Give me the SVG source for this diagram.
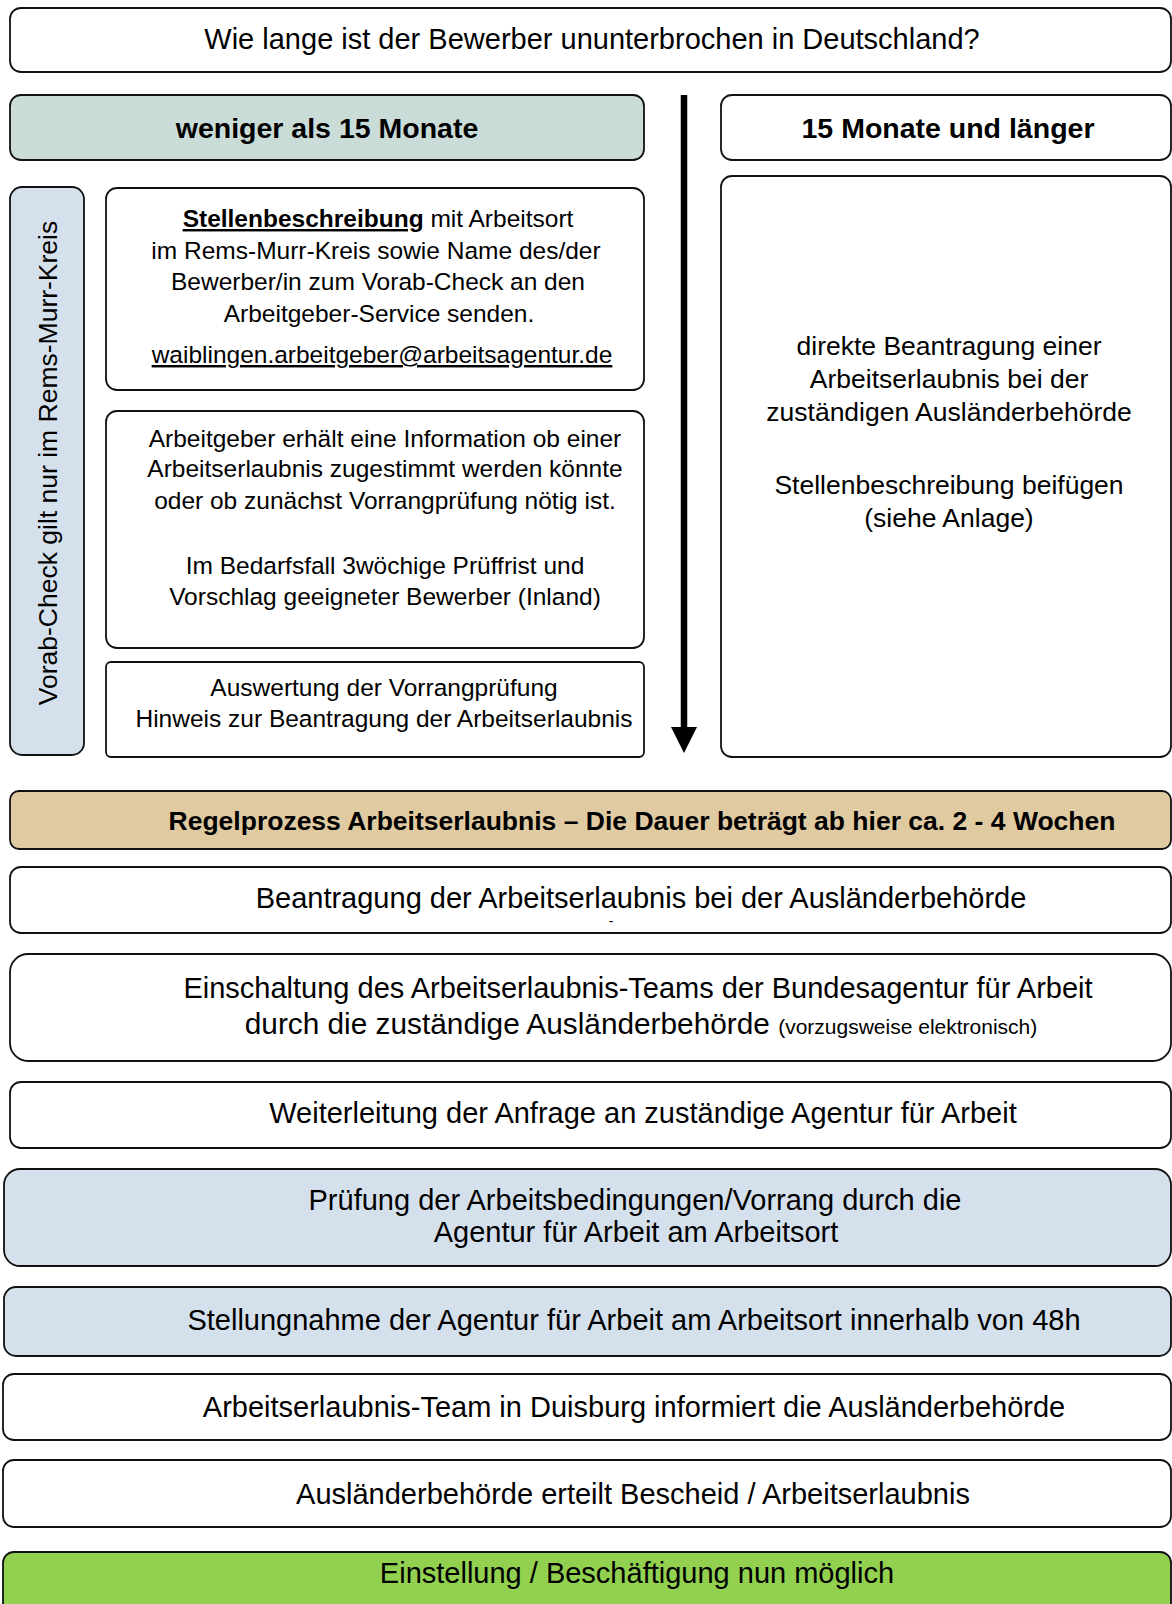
<svg xmlns="http://www.w3.org/2000/svg" width="1172" height="1604" viewBox="0 0 1172 1604">
<style>
.box{stroke:#111;stroke-width:1.8}
.w{fill:#ffffff}
.teal{fill:#cadcd8}
.blue{fill:#d4e0ec}
.tan{fill:#dfcaa1}
.green{fill:#92d050}
text{font-family:"Liberation Sans",Arial,sans-serif;fill:#000;text-anchor:middle}
.t29{font-size:29px}
.t26{font-size:26.5px}
.t24{font-size:24.5px}
.b{font-weight:bold}
</style>
<defs>
<marker id="ah" markerWidth="4" markerHeight="4" refX="0" refY="2" orient="auto" markerUnits="strokeWidth">
<path d="M0,0 L4,2 L0,4 z" fill="#000"/>
</marker>
</defs>
<rect width="1172" height="1604" fill="#fff"/>

<g id="connectors">
<line x1="684" y1="95" x2="684" y2="727" stroke="#000" stroke-width="6.5" marker-end="url(#ah)"/>
</g>

<g id="n-question">
<rect class="box w" x="10" y="8" width="1161" height="64" rx="11"/>
<text class="t29" x="592" y="49">Wie lange ist der Bewerber ununterbrochen in Deutschland?</text>
</g>

<g id="n-weniger">
<rect class="box teal" x="10" y="95" width="634" height="65" rx="11"/>
<text class="t29 b" x="327" y="138" style="font-size:28.5px">weniger als 15 Monate</text>
</g>

<g id="n-laenger">
<rect class="box w" x="721" y="95" width="450" height="65" rx="11"/>
<text class="t29 b" x="948" y="138" style="font-size:28.5px">15 Monate und länger</text>
</g>

<g id="n-vorab">
<rect class="box blue" x="10" y="187" width="74" height="568" rx="12"/>
<text class="t26" transform="translate(57,463) rotate(-90)" x="0" y="0">Vorab-Check gilt nur im Rems-Murr-Kreis</text>
</g>

<g id="n-stellen">
<rect class="box w" x="106" y="188" width="538" height="202" rx="11"/>
<text class="t24" x="378" y="227"><tspan class="b" text-decoration="underline">Stellenbeschreibung</tspan> mit Arbeitsort</text>
<text class="t24" x="376" y="259">im Rems-Murr-Kreis sowie Name des/der</text>
<text class="t24" x="378" y="290">Bewerber/in zum Vorab-Check an den</text>
<text class="t24" x="379" y="322">Arbeitgeber-Service senden.</text>
<text class="t24" x="382" y="363" text-decoration="underline">waiblingen.arbeitgeber@arbeitsagentur.de</text>
</g>

<g id="n-info">
<rect class="box w" x="106" y="411" width="538" height="237" rx="11"/>
<text class="t24" x="385" y="447">Arbeitgeber erhält eine Information ob einer</text>
<text class="t24" x="385" y="477">Arbeitserlaubnis zugestimmt werden könnte</text>
<text class="t24" x="385" y="509">oder ob zunächst Vorrangprüfung nötig ist.</text>
<text class="t24" x="385" y="574">Im Bedarfsfall 3wöchige Prüffrist und</text>
<text class="t24" x="385" y="605">Vorschlag geeigneter Bewerber (Inland)</text>
</g>

<g id="n-auswertung">
<rect class="box w" x="106" y="662" width="538" height="95" rx="5"/>
<text class="t24" x="384" y="696">Auswertung der Vorrangprüfung</text>
<text class="t24" x="384" y="727">Hinweis zur Beantragung der Arbeitserlaubnis</text>
</g>

<g id="n-direkt">
<rect class="box w" x="721" y="176" width="450" height="581" rx="11"/>
<text class="t26" x="949" y="355">direkte Beantragung einer</text>
<text class="t26" x="949" y="388">Arbeitserlaubnis bei der</text>
<text class="t26" x="949" y="421">zuständigen Ausländerbehörde</text>
<text class="t26" x="949" y="494">Stellenbeschreibung beifügen</text>
<text class="t26" x="949" y="527">(siehe Anlage)</text>
</g>

<g id="n-regel">
<rect class="box tan" x="10" y="791" width="1161" height="58" rx="9"/>
<text class="t26 b" x="642" y="830">Regelprozess Arbeitserlaubnis – Die Dauer beträgt ab hier ca. 2 - 4 Wochen</text>
</g>

<g id="n-beantragung">
<rect class="box w" x="10" y="867" width="1161" height="66" rx="11"/>
<text class="t29" x="641" y="908">Beantragung der Arbeitserlaubnis bei der Ausländerbehörde</text>
<text x="611" y="926" style="font-size:14px">-</text>
</g>

<g id="n-einschaltung">
<rect class="box w" x="10" y="954" width="1161" height="107" rx="18"/>
<text class="t29" x="638" y="998">Einschaltung des Arbeitserlaubnis-Teams der Bundesagentur für Arbeit</text>
<text x="641" y="1034" style="font-size:29.8px">durch die zuständige Ausländerbehörde <tspan style="font-size:21px">(vorzugsweise elektronisch)</tspan></text>
</g>

<g id="n-weiterleitung">
<rect class="box w" x="10" y="1082" width="1161" height="66" rx="11"/>
<text class="t29" x="643" y="1123">Weiterleitung der Anfrage an zuständige Agentur für Arbeit</text>
</g>

<g id="n-pruefung">
<rect class="box blue" x="4" y="1169" width="1167" height="97" rx="16"/>
<text class="t29" x="635" y="1210">Prüfung der Arbeitsbedingungen/Vorrang durch die</text>
<text class="t29" x="636" y="1242">Agentur für Arbeit am Arbeitsort</text>
</g>

<g id="n-stellungnahme">
<rect class="box blue" x="4" y="1287" width="1167" height="69" rx="12"/>
<text class="t29" x="634" y="1330">Stellungnahme der Agentur für Arbeit am Arbeitsort innerhalb von 48h</text>
</g>

<g id="n-team">
<rect class="box w" x="3" y="1374" width="1168" height="66" rx="11"/>
<text class="t29" x="634" y="1417">Arbeitserlaubnis-Team in Duisburg informiert die Ausländerbehörde</text>
</g>

<g id="n-bescheid">
<rect class="box w" x="3" y="1460" width="1168" height="67" rx="11"/>
<text class="t29" x="633" y="1504">Ausländerbehörde erteilt Bescheid / Arbeitserlaubnis</text>
</g>

<g id="n-einstellung">
<rect class="box green" x="3" y="1552" width="1168" height="64" rx="11"/>
<text class="t29" x="637" y="1583">Einstellung / Beschäftigung nun möglich</text>
</g>
</svg>
